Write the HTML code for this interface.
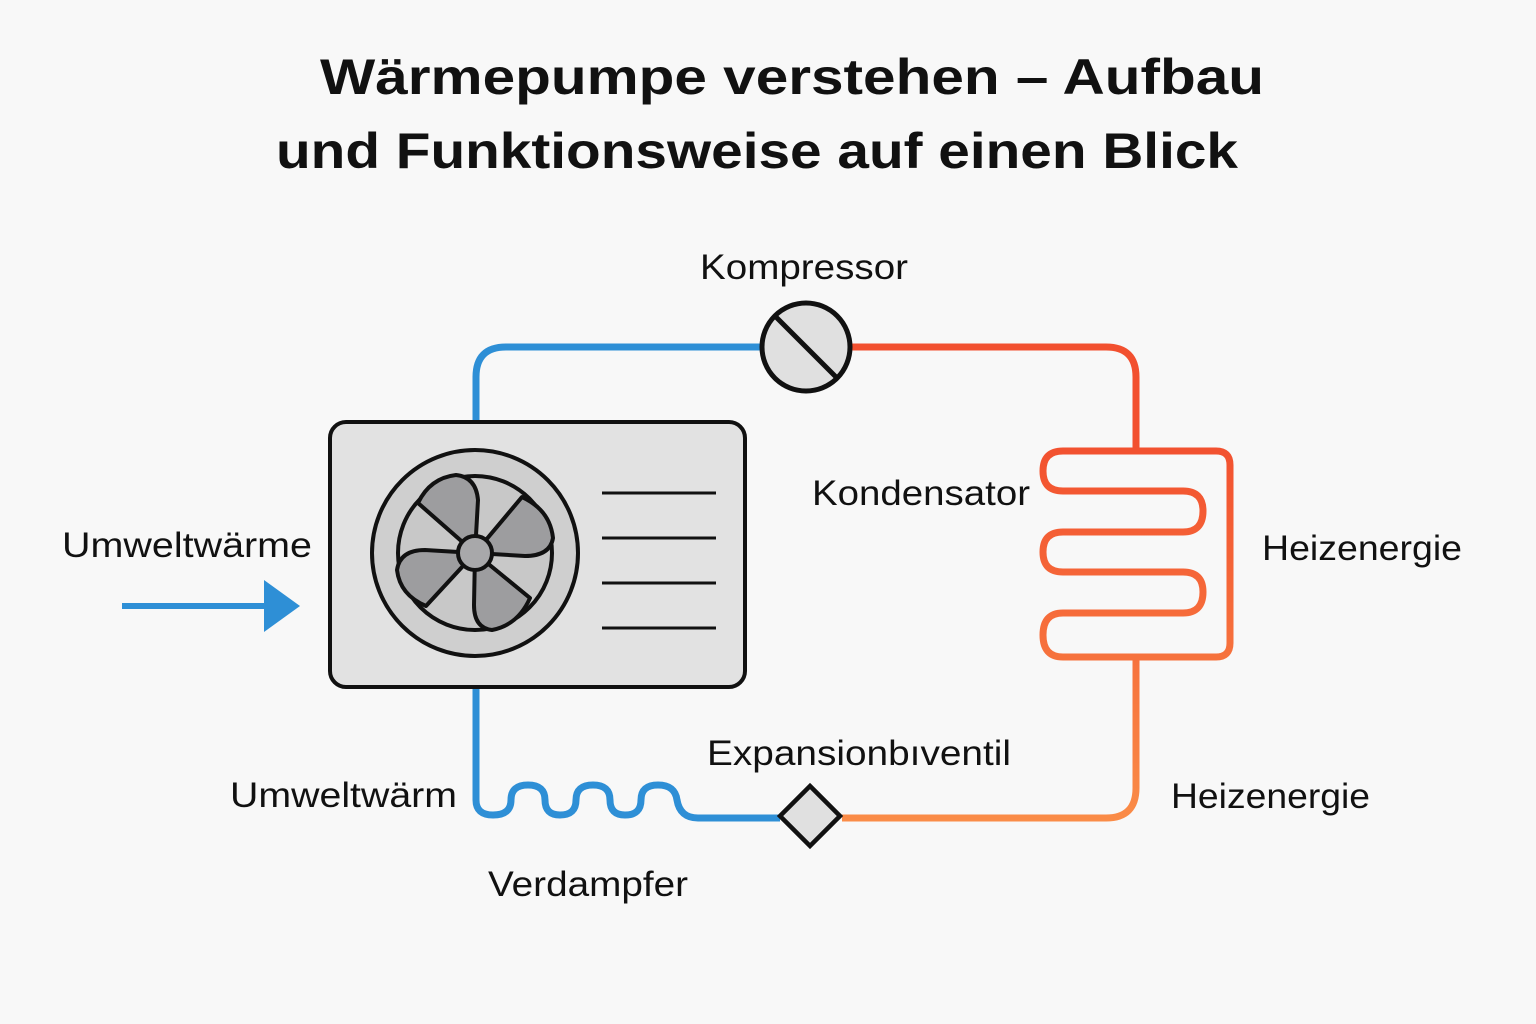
<!DOCTYPE html>
<html><head><meta charset="utf-8"><style>
html,body{margin:0;padding:0;background:#f8f8f8;}
svg{display:block;}
text{font-family:"Liberation Sans",sans-serif;fill:#111;}
</style></head><body>
<svg width="1536" height="1024" viewBox="0 0 1536 1024" xmlns="http://www.w3.org/2000/svg">
<defs>
<linearGradient id="rg" x1="0" y1="0" x2="0" y2="1">
<stop offset="0" stop-color="#f04a30"/><stop offset="1" stop-color="#f98a45"/>
</linearGradient>
<linearGradient id="og" x1="0" y1="440" x2="0" y2="830" gradientUnits="userSpaceOnUse">
<stop offset="0" stop-color="#f2502f"/><stop offset="1" stop-color="#fa8d48"/>
</linearGradient>
</defs>
<rect width="1536" height="1024" fill="#f8f8f8"/>
<text x="320" y="94" font-size="50" font-weight="bold" textLength="944" lengthAdjust="spacingAndGlyphs">Wärmepumpe verstehen – Aufbau</text>
<text x="276" y="168" font-size="50" font-weight="bold" textLength="962" lengthAdjust="spacingAndGlyphs">und Funktionsweise auf einen Blick</text>

<!-- blue pipes -->
<path d="M476 422 V377 Q476 347 506 347 H762" fill="none" stroke="#2e8fd6" stroke-width="7"/>
<path d="M476 687 V800 Q476 815 493 815 Q511 815 511 800 Q511 785 528 785 Q545 785 545 800 Q545 815 560 815 Q576 815 576 800 Q576 785 593 785 Q610 785 610 800 Q610 815 625 815 Q641 815 641 800 Q641 785 658 785 Q675 785 677 800 Q680 818 698 818 H780" fill="none" stroke="#2e8fd6" stroke-width="7"/>
<!-- red/orange pipes -->
<path d="M850 347 H1106 Q1136 347 1136 377 V451" fill="none" stroke="url(#og)" stroke-width="7"/>
<path d="M1136 657 V788 Q1136 818 1106 818 H842" fill="none" stroke="url(#og)" stroke-width="7"/>
<!-- coil -->
<path d="M1136 451 H1063 Q1043 451 1043 471 Q1043 491 1063 491 H1183 Q1203 491 1203 511 Q1203 532 1183 532 H1063 Q1043 532 1043 552 Q1043 572 1063 572 H1183 Q1203 572 1203 592 Q1203 613 1183 613 H1063 Q1043 613 1043 635 Q1043 657 1063 657 H1216 Q1230 657 1230 643 V465 Q1230 451 1216 451 H1136" fill="none" stroke="url(#og)" stroke-width="7"/>

<!-- compressor -->
<circle cx="806" cy="347" r="44" fill="#e0e0e0" stroke="#111" stroke-width="5"/>
<line x1="775" y1="316" x2="837" y2="378" stroke="#111" stroke-width="5"/>
<!-- valve -->
<polygon points="810,786 840,816 810,846 780,816" fill="#e0e0e0" stroke="#111" stroke-width="4.5"/>

<!-- unit -->
<rect x="330" y="422" width="415" height="265" rx="16" fill="#e2e2e2" stroke="#111" stroke-width="4"/>
<circle cx="475" cy="553" r="103" fill="#cfcfcf" stroke="#111" stroke-width="4"/>
<circle cx="475" cy="553" r="77" fill="#c8c8c8" stroke="#111" stroke-width="4"/>
<g fill="#9d9d9f" stroke="#111" stroke-width="4" stroke-linejoin="round">
<path d="M475 553 L418 503 Q430 478 456 475 Q476 477 478 500 Z"/>
<path d="M475 553 L522 497 Q550 510 553 538 Q550 556 525 556 Z"/>
<path d="M475 553 L530 598 Q518 625 492 630 Q474 628 474 605 Z"/>
<path d="M475 553 L426 606 Q400 595 397 570 Q400 550 425 550 Z"/>
</g>
<g stroke="#111" stroke-width="3.5">
<line x1="418" y1="503" x2="475" y2="553"/><line x1="522" y1="497" x2="475" y2="553"/>
<line x1="530" y1="598" x2="475" y2="553"/><line x1="426" y1="606" x2="475" y2="553"/>
</g>
<circle cx="475" cy="553" r="17" fill="#a8a8aa" stroke="#111" stroke-width="4"/>
<g stroke="#111" stroke-width="3">
<line x1="602" y1="493" x2="716" y2="493"/><line x1="602" y1="538" x2="716" y2="538"/>
<line x1="602" y1="583" x2="716" y2="583"/><line x1="602" y1="628" x2="716" y2="628"/>
</g>

<!-- arrow -->
<line x1="122" y1="606" x2="268" y2="606" stroke="#2e8fd6" stroke-width="6"/>
<polygon points="264,580 300,606 264,632" fill="#2e8fd6"/>

<!-- labels -->
<g font-size="35">
<text x="700" y="279" textLength="208" lengthAdjust="spacingAndGlyphs">Kompressor</text>
<text x="812" y="505" textLength="218" lengthAdjust="spacingAndGlyphs">Kondensator</text>
<text x="62" y="557" textLength="250" lengthAdjust="spacingAndGlyphs">Umweltwärme</text>
<text x="1262" y="560" textLength="200" lengthAdjust="spacingAndGlyphs">Heizenergie</text>
<text x="707" y="765" textLength="304" lengthAdjust="spacingAndGlyphs">Expansionbıventil</text>
<text x="230" y="807" textLength="227" lengthAdjust="spacingAndGlyphs">Umweltwärm</text>
<text x="1171" y="808" textLength="199" lengthAdjust="spacingAndGlyphs">Heizenergie</text>
<text x="488" y="896" textLength="200" lengthAdjust="spacingAndGlyphs">Verdampfer</text>
</g>
</svg>
</body></html>
